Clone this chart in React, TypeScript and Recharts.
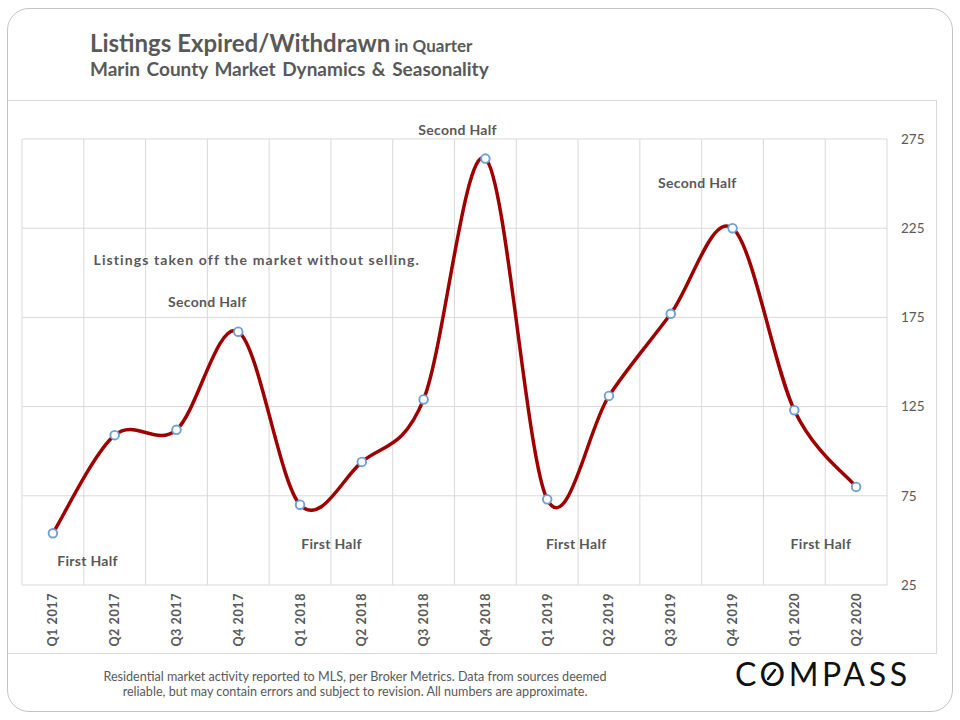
import React from 'react';
import { LineChart, Line, XAxis, YAxis, CartesianGrid, ReferenceLine, ReferenceDot } from 'recharts';

const quarters = ['Q1 2017', 'Q2 2017', 'Q3 2017', 'Q4 2017', 'Q1 2018', 'Q2 2018', 'Q3 2018', 'Q4 2018', 'Q1 2019', 'Q2 2019', 'Q3 2019', 'Q4 2019', 'Q1 2020', 'Q2 2020'];
const listingsExpired = [54, 109, 112, 167, 70, 94, 129, 264, 73, 131, 177, 225, 123, 80];
const yTicks = [25, 75, 125, 175, 225, 275];

// annotation anchors in data coordinates (category index, value)
const annotationTexts = ['Listings taken off the market without selling.', 'First Half', 'Second Half', 'First Half', 'Second Half', 'First Half', 'Second Half', 'First Half'];
const annotationIdx = [3.3, 0.56, 2.5, 4.51, 6.55, 8.47, 10.43, 12.43];
const annotationVal = [207, 38.5, 183.6, 48, 280, 48, 250.5, 48];

const data = quarters.map((q, i) => ({ idx: i, q, v: listingsExpired[i] }));
const xTicks = quarters.map((_, i) => i);
const boundaries = [...quarters.map((_, i) => i - 0.5), quarters.length - 0.5];

// Excel-like smoothing (Catmull-Rom bezier)
const excelCurve = (context: any) => {
  let pts: number[][] = [];
  return {
    areaStart() {},
    areaEnd() {},
    lineStart() { pts = []; },
    point(x: number, y: number) { pts.push([+x, +y]); },
    lineEnd() {
      const n = pts.length;
      if (!n) return;
      context.moveTo(pts[0][0], pts[0][1]);
      const t = 1 / 6;
      for (let i = 0; i < n - 1; i++) {
        const p0 = pts[Math.max(i - 1, 0)];
        const p1 = pts[i];
        const p2 = pts[i + 1];
        const p3 = pts[Math.min(i + 2, n - 1)];
        context.bezierCurveTo(
          p1[0] + (p2[0] - p0[0]) * t, p1[1] + (p2[1] - p0[1]) * t,
          p2[0] - (p3[0] - p1[0]) * t, p2[1] - (p3[1] - p1[1]) * t,
          p2[0], p2[1]
        );
      }
    },
  };
};

const TEXT = '#595959';
const GRID = '#d9d9d9';

const XTick = (props: any) => {
  const { x, y, payload } = props;
  return (
    <text x={x} y={y} dy={4.5} transform={`rotate(-90, ${x}, ${y})`} textAnchor="end" fill={TEXT} fontSize={12.5} fontWeight={700} letterSpacing={0.6}>
      {quarters[payload.value]}
    </text>
  );
};

export default function App() {
  return (
    <div style={{ position: 'absolute', left: 0, top: 0, width: 960, height: 720, background: '#fff', fontFamily: 'Lato, sans-serif', overflow: 'hidden' }}>
      {/* outer frame */}
      <div style={{ position: 'absolute', left: 7, top: 8, width: 944, height: 702, border: '1px solid #c4c4c4', borderRadius: 22 }} />
      {/* inner panel */}
      <div style={{ position: 'absolute', left: 8, top: 100, width: 928, height: 552, borderTop: `1px solid ${GRID}`, borderRight: `1px solid ${GRID}`, borderBottom: `1px solid ${GRID}` }} />

      <div style={{ position: 'absolute', left: 90, top: 29, color: TEXT, whiteSpace: 'nowrap', lineHeight: '28px' }}>
        <span style={{ fontSize: 24, fontWeight: 700 }}>Listings Expired/Withdrawn</span>
        <span style={{ fontSize: 17, fontWeight: 700 }}> in Quarter</span>
      </div>
      <div style={{ position: 'absolute', left: 90, top: 57, color: TEXT, whiteSpace: 'nowrap', lineHeight: '23px', fontSize: 19, fontWeight: 700, wordSpacing: 2 }}>
        Marin County Market Dynamics &amp; Seasonality
      </div>

      <div style={{ position: 'absolute', left: 0, top: 0 }}>
        <LineChart width={960} height={720} data={data} margin={{ top: 139, left: 22, right: 33, bottom: 75 }}>
          <CartesianGrid vertical={false} stroke={GRID} strokeWidth={1} />
          {boundaries.map((b) => (
            <ReferenceLine key={b} x={b} stroke={GRID} strokeWidth={1} ifOverflow="visible" />
          ))}
          <XAxis
            dataKey="idx"
            type="number"
            domain={[-0.5, quarters.length - 0.5]}
            ticks={xTicks}
            interval={0}
            axisLine={false}
            tickLine={false}
            tickSize={0}
            tickMargin={8}
            height={60}
            tick={<XTick />}
          />
          <YAxis
            orientation="right"
            domain={[25, 275]}
            ticks={yTicks}
            axisLine={false}
            tickLine={false}
            tickSize={0}
            tickMargin={14}
            width={40}
            tick={{ fill: TEXT, fontSize: 13.5, textAnchor: 'start' }}
          />
          <Line
            dataKey="v"
            type={excelCurve as any}
            stroke="#9e0000"
            strokeWidth={3.5}
            dot={{ r: 4.3, fill: '#ffffff', stroke: '#6c9fd2', strokeWidth: 1.9 }}
            activeDot={false}
            isAnimationActive={false}
          />
          {annotationTexts.map((t, i) => (
            <ReferenceDot
              key={i}
              x={annotationIdx[i]}
              y={annotationVal[i]}
              r={0}
              fill="none"
              stroke="none"
              ifOverflow="visible"
              label={{ value: t, position: 'center', fill: TEXT, fontSize: 14, fontWeight: 700, letterSpacing: i === 0 ? 1.1 : 0.3 }}
            />
          ))}
        </LineChart>
      </div>

      <div style={{ position: 'absolute', left: 55, width: 600, top: 669, color: TEXT, fontSize: 12.6, lineHeight: '15px', textAlign: 'center', whiteSpace: 'nowrap' }}>
        <div>Residential market activity reported to MLS, per Broker Metrics. Data from sources deemed</div>
        <div>reliable, but may contain errors and subject to revision. All numbers are approximate.</div>
      </div>

      <svg style={{ position: 'absolute', left: 0, top: 0 }} width={960} height={720} pointerEvents="none">
        <text x={735} y={686} fontSize={32} fill="#111" textLength={172} lengthAdjust="spacing">COMPASS</text>
        <line x1={768} y1={679} x2={775} y2={670} stroke="#111" strokeWidth={2.4} strokeLinecap="round" />
      </svg>
    </div>
  );
}
